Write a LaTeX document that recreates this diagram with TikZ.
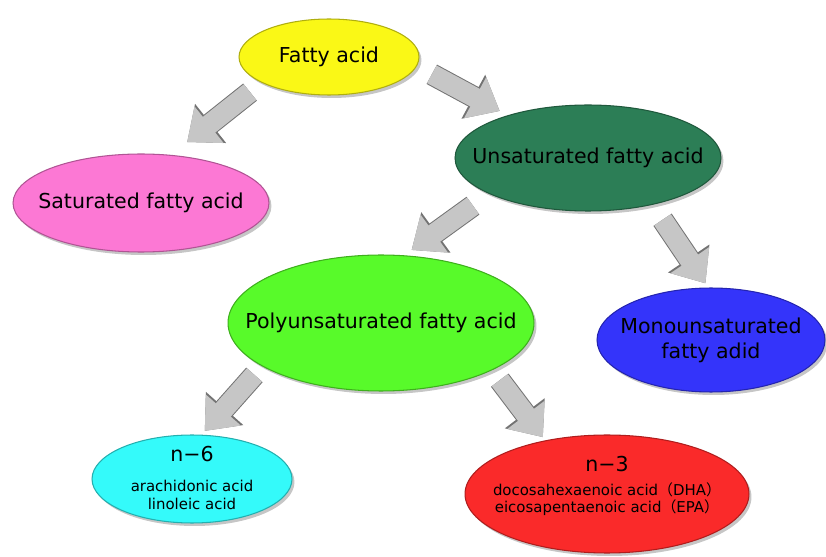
\documentclass[tikz,border=0pt]{standalone}
\usepackage{fontspec}
\setmainfont{DejaVu Sans}
\newfontfamily\cjk{Noto Sans CJK JP}
\usetikzlibrary{arrows.meta,shadows,shapes.geometric}

\definecolor{fayellow}{RGB}{250,248,22}
\definecolor{sfapink}{RGB}{252,120,212}
\definecolor{ufagreen}{RGB}{44,126,86}
\definecolor{pfagreen}{RGB}{88,250,42}
\definecolor{mfablue}{RGB}{52,52,250}
\definecolor{nsixcyan}{RGB}{52,250,250}
\definecolor{nthreered}{RGB}{250,42,42}
\newcommand\acidline{\fontsize{8.5}{10}\selectfont}

\begin{document}
\begin{tikzpicture}[x=0.02cm,y=-0.02cm,
  blob/.style={ellipse, inner sep=0pt, fill=#1,
    draw=#1!70!black, line width=0.6pt,
    drop shadow={opacity=0.45, shadow xshift=0.05cm, shadow yshift=-0.06cm}},
  txt/.style={align=center, inner sep=0pt, font=\fontsize{11.7}{14.2}\selectfont},
  fatarrow/.style={line width=0.4cm, draw=gray!45,
    -{Triangle[length=0.56cm,width=0.9cm]},
    preaction={draw=black!55, line width=0.44cm,
      -{Triangle[length=0.6cm,width=0.96cm]}}}]
\useasboundingbox (0,0) rectangle (826,557);

\node[blob=fayellow, minimum width=3.6cm, minimum height=1.52cm,
  label={[txt]center:Fatty acid}] (fa) at (329,57) {};
\node[blob=sfapink, minimum width=5.12cm, minimum height=1.96cm,
  label={[txt]center:Saturated fatty acid}] (sfa) at (141,203) {};
\node[blob=ufagreen, minimum width=5.32cm, minimum height=2.12cm,
  label={[txt]center:Unsaturated fatty acid}] (ufa) at (588,158) {};
\node[blob=pfagreen, minimum width=6.12cm, minimum height=2.72cm,
  label={[txt]center:Polyunsaturated fatty acid}] (pfa) at (381,323) {};
\node[blob=mfablue, minimum width=4.56cm, minimum height=2.08cm,
  label={[txt]center:{Monounsaturated\\fatty adid}}] (mfa) at (711,340) {};
\node[blob=nsixcyan, minimum width=4.0cm, minimum height=1.76cm,
  label={[txt, yshift=0.02cm]center:{n−6\\[2.5pt]\acidline arachidonic acid\\[-4pt]\acidline linoleic acid}}] (n6) at (192,479) {};
\node[blob=nthreered, minimum width=5.68cm, minimum height=2.36cm,
  label={[txt, yshift=0.16cm]center:{n−3\\[-1pt]\acidline docosahexaenoic acid{\cjk （}DHA{\cjk ）}\\[-4.4pt]\acidline eicosapentaenoic acid{\cjk （}EPA{\cjk ）}}}] (n3) at (607,494) {};

\draw[fatarrow, shorten <=0.3cm, shorten >=0.41cm] (fa.201) -- (sfa.58);
\draw[fatarrow, shorten <=0.34cm, shorten >=0.18cm] (fa.354) -- (ufa.152);
\draw[fatarrow, shorten <=0.4cm, shorten >=0.18cm] (ufa.200) -- (pfa.71);
\draw[fatarrow, shorten <=0.36cm, shorten >=0.1cm] (ufa.324) -- (mfa.93);
\draw[fatarrow, shorten <=0.23cm, shorten >=0.1cm] (pfa.200) -- (n6.78);
\draw[fatarrow, shorten <=0.25cm, shorten >=0.08cm] (pfa.337) -- (n3.139);
\end{tikzpicture}
\end{document}
